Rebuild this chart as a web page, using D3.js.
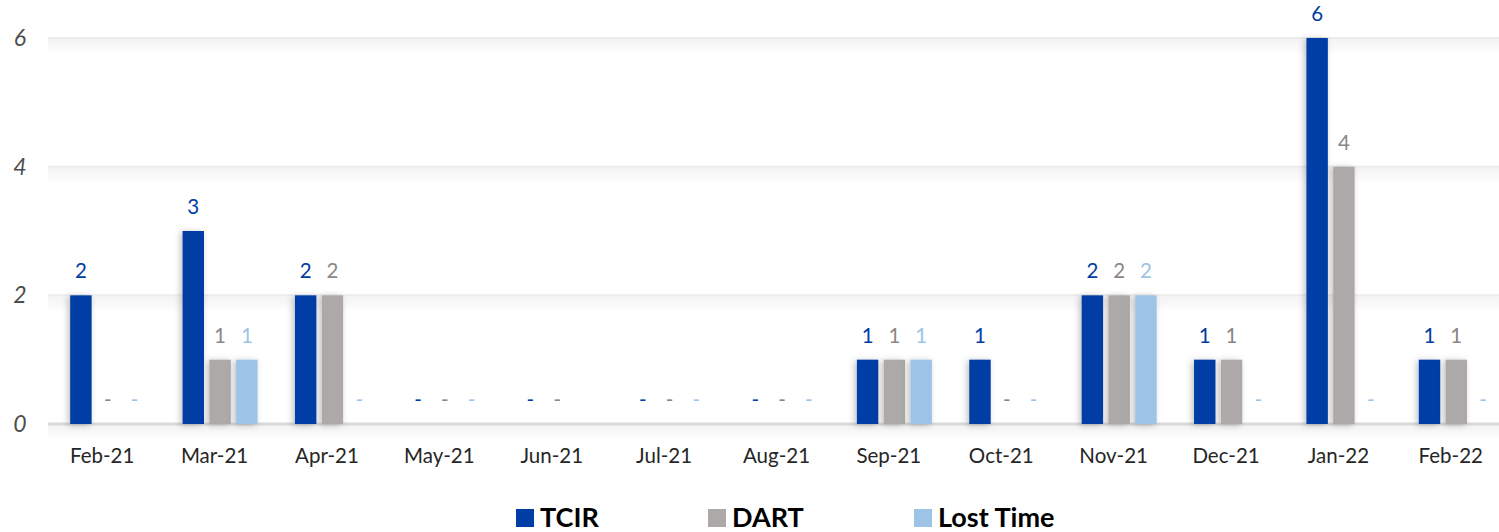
<!DOCTYPE html>
<html>
<head>
<meta charset="utf-8">
<script src="https://cdn.jsdelivr.net/npm/d3@7"></script>
<style>
  body { margin: 0; background: #fff; }
  svg { display: block; font-family: Lato, "Open Sans", sans-serif; }
</style>
</head>
<body>
<svg width="1499" height="532"></svg>
<script>
const months = ['Feb-21', 'Mar-21', 'Apr-21', 'May-21', 'Jun-21', 'Jul-21', 'Aug-21',
  'Sep-21', 'Oct-21', 'Nov-21', 'Dec-21', 'Jan-22', 'Feb-22'];
const series = ['TCIR', 'DART', 'Lost Time'];
const tcir = [2, 3, 2, 0, 0, 0, 0, 1, 1, 2, 1, 6, 1];
const dart = [0, 1, 2, 0, 0, 0, 0, 1, 0, 2, 1, 4, 1];
const lostTime = [0, 1, 0, 0, null, 0, 0, 1, 0, 2, 0, 0, 0];
const yTicks = [0, 2, 4, 6];

const barColours = ['#003DA5', '#ADA9A8', '#9DC3E6'];
const textColours = ['#003DA5', '#8A8686', '#9DC3E6'];

const values = [tcir, dart, lostTime];
const data = months.map((m, i) => ({
  month: m,
  vals: series.map((s, j) => ({ key: s, idx: j, value: values[j][i] }))
}));

const svg = d3.select('svg');

const x = d3.scaleBand().domain(months).range([49, 1510]);
const xs = d3.scaleBand().domain(series).range([0, 75]).paddingInner(0.2);
const y = d3.scaleLinear().domain([0, 6]).range([424, 38]);

const defs = svg.append('defs');
const grad = defs.append('linearGradient')
  .attr('id', 'gridShade').attr('x1', 0).attr('y1', 0).attr('x2', 0).attr('y2', 1);
grad.append('stop').attr('offset', 0).attr('stop-color', '#f3f3f3');
grad.append('stop').attr('offset', 1).attr('stop-color', '#ffffff');

const shadow = defs.append('filter').attr('id', 'shadow')
  .attr('x', '-50%').attr('y', '-10%').attr('width', '200%').attr('height', '120%');
shadow.append('feDropShadow')
  .attr('dx', -2).attr('dy', 1).attr('stdDeviation', 3)
  .attr('flood-color', '#000').attr('flood-opacity', 0.25);

// gridlines
const grid = svg.append('g');
grid.selectAll('rect.shade')
  .data(yTicks)
  .enter().append('rect')
  .attr('x', 48).attr('width', 1451)
  .attr('y', d => y(d) + 1).attr('height', 16)
  .attr('fill', 'url(#gridShade)');
grid.selectAll('line')
  .data(yTicks)
  .enter().append('line')
  .attr('x1', 48).attr('x2', 1499)
  .attr('y1', d => y(d)).attr('y2', d => y(d))
  .attr('stroke', d => d === 0 ? '#d9d9d9' : '#ececec')
  .attr('stroke-width', d => d === 0 ? 3 : 2);

// y labels
svg.append('g').selectAll('text')
  .data(yTicks)
  .enter().append('text')
  .attr('x', 20).attr('y', d => y(d) + 8)
  .attr('text-anchor', 'middle')
  .attr('font-style', 'italic')
  .attr('font-size', 23)
  .attr('fill', '#4d4d4d')
  .text(d => d);

// bars
const group = svg.append('g').selectAll('g')
  .data(data)
  .enter().append('g')
  .attr('transform', d => `translate(${x(d.month) + (x.bandwidth() - 75) / 2 + 2.5}, 0)`);

group.selectAll('rect')
  .data(d => d.vals.filter(v => v.value > 0))
  .enter().append('rect')
  .attr('x', d => xs(d.key))
  .attr('y', d => y(d.value))
  .attr('width', xs.bandwidth())
  .attr('height', d => y(0) - y(d.value))
  .attr('fill', d => barColours[d.idx])
  .attr('filter', 'url(#shadow)');

group.selectAll('text')
  .data(d => d.vals.filter(v => v.value !== null))
  .enter().append('text')
  .attr('x', d => xs(d.key) + xs.bandwidth() / 2)
  .attr('y', d => y(d.value) - 17)
  .attr('text-anchor', 'middle')
  .attr('font-size', 20.5)
  .attr('fill', d => textColours[d.idx])
  .text(d => d.value === 0 ? '-' : d.value);

// x axis labels
svg.append('g').selectAll('text')
  .data(months)
  .enter().append('text')
  .attr('x', d => x(d) + x.bandwidth() / 2 - 3)
  .attr('y', 463)
  .attr('text-anchor', 'middle')
  .attr('font-size', 20.5)
  .attr('fill', '#262626')
  .text(d => d);

// legend
const legendX = [516, 708, 914];
const legend = svg.append('g').selectAll('g')
  .data(series)
  .enter().append('g')
  .attr('transform', (d, i) => `translate(${legendX[i]}, 509)`);
legend.append('rect')
  .attr('width', 18).attr('height', 18)
  .attr('fill', (d, i) => barColours[i]);
legend.append('text')
  .attr('x', 24).attr('y', 18)
  .attr('font-size', 27)
  .attr('font-weight', 'bold')
  .attr('fill', '#000')
  .text(d => d);
</script>
</body>
</html>
